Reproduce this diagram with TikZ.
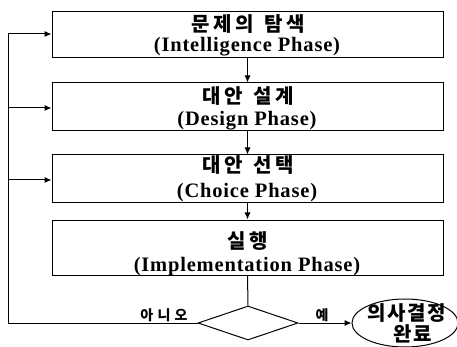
\documentclass[tikz,border=0pt]{standalone}
\usepackage{fontspec}
\setmainfont{Liberation Serif}
\newfontfamily\kr{Noto Sans CJK KR}[LetterSpace=18]
\newfontfamily\krend{Noto Sans CJK KR}[LetterSpace=8]
\newfontfamily\krwide{Noto Sans CJK KR}[LetterSpace=30]
\newfontfamily\en{Liberation Serif}[LetterSpace=4]
\usetikzlibrary{shapes.geometric,arrows.meta}
\begin{document}
\begin{tikzpicture}[x=1pt,y=-1pt,
  phasebox/.style={draw,line width=1pt,rectangle,minimum width=391pt,inner sep=0pt},
  kortxt/.style={font=\kr\bfseries\fontsize{20}{20}\selectfont,inner sep=0pt},
  engtxt/.style={font=\en\bfseries\fontsize{20.5}{20}\selectfont,inner sep=0pt},
  smalltxt/.style={font=\krwide\bfseries\fontsize{14}{14}\selectfont,inner sep=0pt},
  endtxt/.style={font=\krend\bfseries\fontsize{20}{20}\selectfont,inner sep=0pt},
  conn/.style={line width=1pt},
  arr/.style={line width=1pt,-{Latex[length=7pt,width=6pt]}}]
\useasboundingbox (0,0) rectangle (457,347);
\fill[white] (0,0) rectangle (457,347);
% boxes
\node[phasebox,minimum height=46pt] (b1) at (247.5,35) {};
\node[phasebox,minimum height=48pt] (b2) at (247.5,107) {};
\node[phasebox,minimum height=48pt] (b3) at (247.5,179) {};
\node[phasebox,minimum height=55pt] (b4) at (247.5,247.5) {};
% texts
\node[kortxt] (k1) at (248,24) {문제의\hspace{10pt}탐색};
\node[engtxt,anchor=base] (e1) at (247,52) {(Intelligence Phase)};
\node[kortxt] (k2) at (248,96) {대안\hspace{10pt}설계};
\node[engtxt,anchor=base] (e2) at (247,126) {(Design Phase)};
\node[kortxt] (k3) at (248,165) {대안\hspace{10pt}선택};
\node[engtxt,anchor=base] (e3) at (247,197) {(Choice Phase)};
\node[kortxt] (k4) at (248,241) {실행};
\node[engtxt,anchor=base] (e4) at (247,271) {(Implementation Phase)};
% decision
\node[draw,line width=1pt,diamond,minimum width=100pt,minimum height=34pt,inner sep=0pt] (d) at (248,323) {};
\node[draw,line width=1pt,ellipse,minimum width=106pt,minimum height=48pt,inner sep=0pt] (end) at (405,323) {};
\node[endtxt] (t1) at (407,313) {의사결정};
\node[endtxt] (t2) at (413,334) {완료};
\node[smalltxt] (no) at (164,315) {아니오};
\node[smalltxt] (yes) at (322,315) {예};
% connectors
\draw[arr] (b1.south) -- (b2.north);
\draw[arr] (b2.south) -- (b3.north);
\draw[arr] (b3.south) -- (b4.north);
\draw[conn] (b4.south) -- (d.north);
\draw[arr] (d.east) -- (end.west);
\coordinate (c0) at (8,323);
\coordinate (c1) at (8,34);
\coordinate (c2) at (8,108);
\coordinate (c3) at (8,180);
\draw[conn] (d.west) -- (c0) -- (c1);
\draw[arr] (c1) -- (b1.west |- c1);
\draw[arr] (c2) -- (b2.west |- c2);
\draw[arr] (c3) -- (b3.west |- c3);
\end{tikzpicture}
\end{document}
